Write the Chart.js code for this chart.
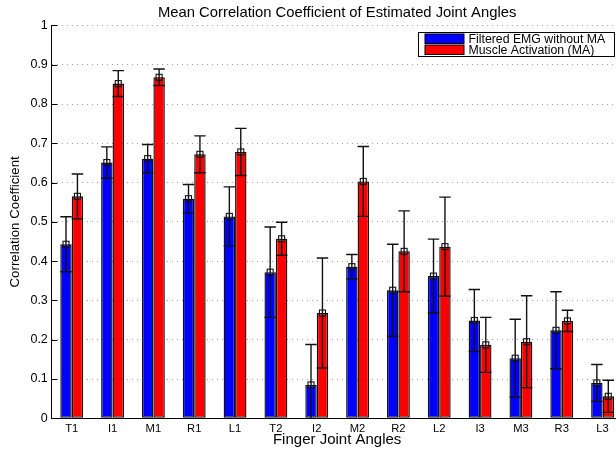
<!DOCTYPE html>
<html>
<head>
<meta charset="utf-8">
<script src="https://cdn.jsdelivr.net/npm/chart.js@4.4.1/dist/chart.umd.min.js"></script>
<style>
  html, body { margin: 0; padding: 0; width: 616px; height: 449px; overflow: hidden; background: #fff; }
  #wrap { position: relative; width: 640px; height: 449px; }
</style>
</head>
<body>
<div id="wrap"><canvas id="chart" width="640" height="449"></canvas></div>
<script>
// Finger joint categories
const joints = ['T1', 'I1', 'M1', 'R1', 'L1', 'T2', 'I2', 'M2', 'R2', 'L2', 'I3', 'M3', 'R3', 'L3'];

// Filtered EMG without MA: mean correlation and standard deviation
const emgMean = [0.443, 0.651, 0.661, 0.559, 0.514, 0.372, 0.085, 0.386, 0.326, 0.362, 0.249, 0.153, 0.224, 0.090];
const emgStd  = [0.070, 0.040, 0.036, 0.036, 0.075, 0.115, 0.103, 0.031, 0.117, 0.094, 0.079, 0.099, 0.098, 0.047];

// Muscle Activation (MA): mean correlation and standard deviation
const maMean = [0.565, 0.852, 0.868, 0.672, 0.678, 0.457, 0.268, 0.603, 0.425, 0.437, 0.187, 0.195, 0.248, 0.056];
const maStd  = [0.057, 0.033, 0.021, 0.047, 0.060, 0.042, 0.140, 0.089, 0.103, 0.126, 0.070, 0.117, 0.027, 0.041];

// Y axis tick values
const yTicks = [0, 0.1, 0.2, 0.3, 0.4, 0.5, 0.6, 0.7, 0.8, 0.9, 1];

const FONT = 'Helvetica, Arial, "Liberation Sans", sans-serif';

// Error bars with caps and an open square at the mean
const errorBars = {
  id: 'errorBars',
  afterDatasetsDraw(chart) {
    const ctx = chart.ctx;
    const y = chart.scales.y;
    const area = chart.chartArea;
    ctx.save();
    ctx.beginPath();
    ctx.rect(area.left, area.top - 5, area.right - area.left, area.bottom - area.top + 5);
    ctx.clip();
    chart.data.datasets.forEach((ds, di) => {
      const meta = chart.getDatasetMeta(di);
      meta.data.forEach((bar, i) => {
        const m = ds.data[i];
        const s = ds.errors[i];
        const yTop = y.getPixelForValue(m + s);
        const yBot = y.getPixelForValue(m - s);
        const yMid = y.getPixelForValue(m);
        const x = bar.x;
        const half = bar.width / 2;
        ctx.strokeStyle = '#111';
        ctx.lineWidth = 1.4;
        ctx.beginPath();
        ctx.moveTo(x, yTop); ctx.lineTo(x, yBot);
        ctx.moveTo(x - half, yTop); ctx.lineTo(x + half, yTop);
        ctx.moveTo(x - half, yBot); ctx.lineTo(x + half, yBot);
        ctx.stroke();
        ctx.lineWidth = 1.1;
        ctx.strokeRect(x - 3, yMid - 3, 6, 6);
      });
    });
    ctx.restore();
  }
};

// Inward tick marks on the value axis
const innerTicks = {
  id: 'innerTicks',
  afterDraw(chart) {
    const ctx = chart.ctx;
    const y = chart.scales.y;
    const left = chart.chartArea.left;
    ctx.save();
    ctx.strokeStyle = '#000';
    ctx.lineWidth = 1;
    y.ticks.forEach(t => {
      const py = Math.round(y.getPixelForValue(t.value)) + 0.5;
      ctx.beginPath();
      ctx.moveTo(left, py); ctx.lineTo(left + 6, py);
      ctx.stroke();
    });
    ctx.restore();
  }
};

// Boxed legend in the upper right of the plot
const boxLegend = {
  id: 'boxLegend',
  afterDraw(chart) {
    const ctx = chart.ctx;
    const bx = 418.5, by = 32.5, bw = 196, bh = 24;
    ctx.save();
    ctx.fillStyle = '#fff';
    ctx.fillRect(bx, by, bw, bh);
    ctx.strokeStyle = '#000';
    ctx.lineWidth = 1;
    ctx.strokeRect(bx, by, bw, bh);
    ctx.font = '12.3px ' + FONT;
    ctx.textBaseline = 'middle';
    chart.data.datasets.forEach((ds, i) => {
      const sy = by + 1.5 + i * 11;
      ctx.fillStyle = ds.backgroundColor;
      ctx.fillRect(425, sy, 39, 9.5);
      ctx.strokeStyle = '#000';
      ctx.strokeRect(425, sy, 39, 9.5);
      ctx.fillStyle = '#000';
      ctx.fillText(ds.label, 468.5, sy + 5.3);
    });
    ctx.restore();
  }
};

new Chart(document.getElementById('chart'), {
  type: 'bar',
  data: {
    labels: joints,
    datasets: [
      { label: 'Filtered EMG without MA', data: emgMean, errors: emgStd,
        backgroundColor: '#0000ff', borderColor: '#111', borderWidth: 1.4, borderSkipped: false },
      { label: 'Muscle Activation (MA)', data: maMean, errors: maStd,
        backgroundColor: '#ff0000', borderColor: '#111', borderWidth: 1.4, borderSkipped: false }
    ]
  },
  options: {
    responsive: false,
    animation: false,
    events: [],
    layout: { padding: { left: 0, right: 17, top: 0, bottom: 0 } },
    datasets: { bar: { categoryPercentage: 0.56, barPercentage: 1.0 } },
    plugins: {
      legend: { display: false },
      tooltip: { enabled: false },
      title: {
        display: true,
        fullSize: false,
        text: 'Mean Correlation Coefficient of Estimated Joint Angles',
        color: '#000',
        font: { family: FONT, size: 14.8, weight: 'normal' },
        padding: { top: 4.5, bottom: 3.2 }
      }
    },
    scales: {
      x: {
        grid: { display: false, drawTicks: false },
        border: { display: true, color: '#000', width: 1 },
        ticks: { color: '#000', font: { family: FONT, size: 11.2 }, padding: 4, maxRotation: 0, autoSkip: false },
        title: { display: true, text: 'Finger Joint Angles', color: '#000',
                 font: { family: FONT, size: 15 }, padding: { top: 0, bottom: 0 } },
        afterFit(s) { s.height = 30.7; }
      },
      y: {
        min: 0, max: 1,
        afterBuildTicks(s) { s.ticks = yTicks.map(v => ({ value: v })); },
        grid: { color: '#a0a0a0', drawTicks: false, lineWidth: 1 },
        border: { display: true, color: '#000', width: 1, dash: [1, 4] },
        ticks: { color: '#000', font: { family: FONT, size: 12.5 }, padding: 3.5,
                 callback: v => String(v) },
        title: { display: true, text: 'Correlation Coefficient', color: '#000',
                 font: { family: FONT, size: 13.3 }, padding: { top: 7, bottom: 0 } },
        afterFit(s) { s.width = 51.3; }
      }
    }
  },
  plugins: [errorBars, innerTicks, boxLegend]
});
</script>
</body>
</html>
